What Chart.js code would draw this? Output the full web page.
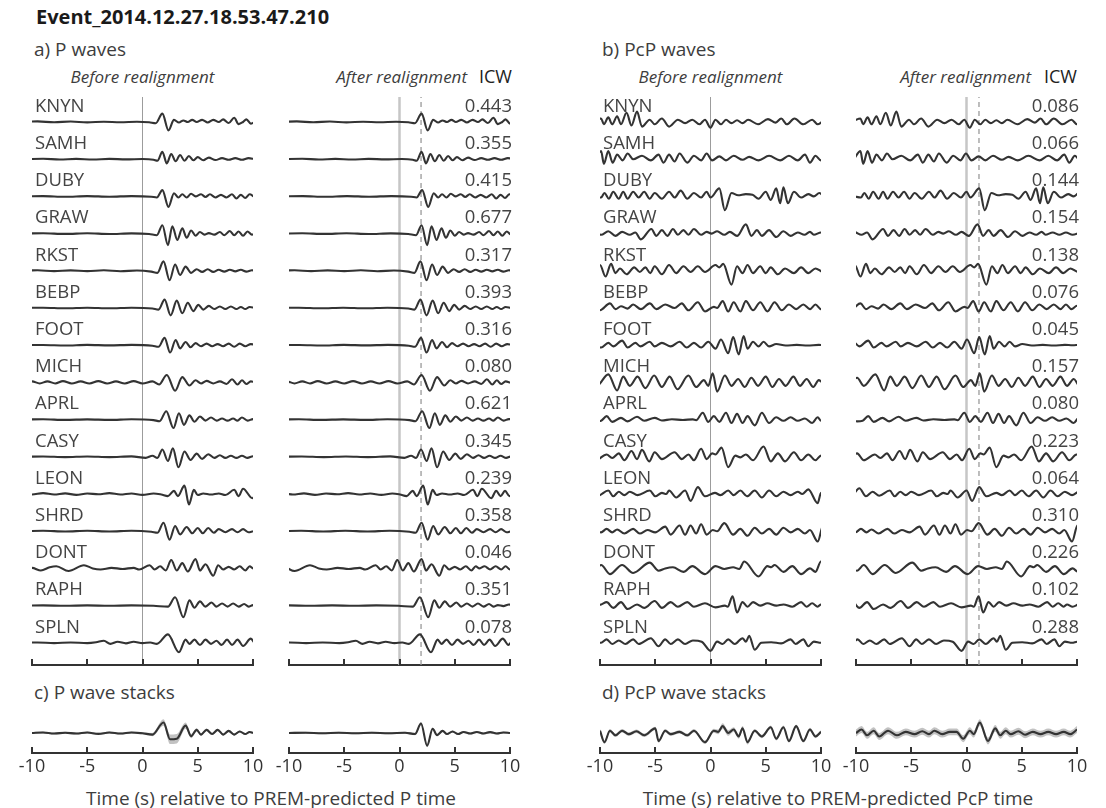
<!DOCTYPE html>
<html>
<head>
<meta charset="utf-8">
<script src="https://cdn.jsdelivr.net/npm/chart.js@4.4.0/dist/chart.umd.min.js"></script>
<style>
  body { margin: 0; background: #fff; width: 1106px; height: 808px; position: relative; overflow: hidden;
         font-family: "Open Sans", sans-serif; color: #3d3d3d; }
  .t { position: absolute; white-space: nowrap; line-height: 1; }
  canvas { position: absolute; }
</style>
</head>
<body>
<div class="t" style="left:36px;top:7px;font-size:20px;font-weight:700;color:#1a1a1a">Event_2014.12.27.18.53.47.210</div>

<div class="t" style="left:34px;top:40px;font-size:19px">a) P waves</div>
<div class="t" style="left:602px;top:40px;font-size:19px">b) PcP waves</div>

<div class="t" style="left:42px;width:201px;text-align:center;top:68px;font-size:17px;font-style:italic">Before realignment</div>
<div class="t" style="right:639px;top:68px;font-size:17px;font-style:italic">After realignment</div>
<div class="t" style="right:594px;top:67px;font-size:18px;color:#222">ICW</div>

<div class="t" style="left:610px;width:201px;text-align:center;top:68px;font-size:17px;font-style:italic">Before realignment</div>
<div class="t" style="right:75px;top:68px;font-size:17px;font-style:italic">After realignment</div>
<div class="t" style="right:29px;top:67px;font-size:18px;color:#222">ICW</div>

<div class="t" style="left:34px;top:683px;font-size:19px">c) P wave stacks</div>
<div class="t" style="left:602px;top:683px;font-size:19px">d) PcP wave stacks</div>

<div class="t" style="left:21px;width:500px;text-align:center;top:789px;font-size:19px">Time (s) relative to PREM-predicted P time</div>
<div class="t" style="left:588px;width:500px;text-align:center;top:789px;font-size:19px">Time (s) relative to PREM-predicted PcP time</div>

<canvas id="pBefore"></canvas>
<canvas id="pAfter"></canvas>
<canvas id="pcpBefore"></canvas>
<canvas id="pcpAfter"></canvas>
<canvas id="pStackB"></canvas>
<canvas id="pStackA"></canvas>
<canvas id="pcpStackB"></canvas>
<canvas id="pcpStackA"></canvas>

<script>
// ---- data ----
const stations = ['KNYN', 'SAMH', 'DUBY', 'GRAW', 'RKST', 'BEBP', 'FOOT', 'MICH',
                  'APRL', 'CASY', 'LEON', 'SHRD', 'DONT', 'RAPH', 'SPLN'];
const icwP   = ['0.443', '0.355', '0.415', '0.677', '0.317', '0.393', '0.316', '0.080',
                '0.621', '0.345', '0.239', '0.358', '0.046', '0.351', '0.078'];
const icwPcP = ['0.086', '0.066', '0.144', '0.154', '0.138', '0.076', '0.045', '0.157',
                '0.080', '0.223', '0.064', '0.310', '0.226', '0.102', '0.288'];
// realignment time shift of each trace (s)
const shiftP   = [0.2, 0.2, 0.25, 0.2, 0, -0.1, -0.05, -0.2, -0.1, 0.15, -1.65, 0.1, -2.8, -1.1, -0.45];
const shiftPcP = [0.3, 0.3, 0.35, -2.2, -0.1, -0.5, -0.9, 1.0, 0.5, 1.1, 2.3, -0.15, 0.6, -0.9, -0.45];
const pickP = 1.95, pickPcP = 1.13;
const xTicks = [-10, -5, 0, 5, 10];

// P waveforms, [time s, amplitude px] at peaks / troughs
const pKNYN = [[-11,0],[-9.5,0.6],[-8,-0.3],[-6.5,0.5],[-5,-0.4],[-3.5,0.3],[-2,-0.3],[-0.5,0.3],[0.6,-0.3],[1.2,-1.2],[1.8,8],[2.35,-8],[2.85,2],[3.3,-0.5],[3.7,1.5],[4.1,0],[4.5,2],[4.9,0],[5.4,2],[5.9,-0.5],[6.4,2],[6.9,0],[7.3,2.5],[7.8,-1],[8.3,4],[8.7,-2],[9.1,0],[9.4,2.5],[9.8,-1.5],[10.4,1],[11,0]];
const pSAMH = [[-11,0],[-9,0.4],[-7.5,-0.3],[-6,0.3],[-4.5,-0.3],[-3,0.3],[-1.5,-0.2],[0,0.2],[1,-0.5],[1.35,-1.5],[1.8,7],[2.2,-4],[2.6,5],[3.0,-2],[3.4,4],[3.8,-1.5],[4.2,3],[4.6,-1],[5.0,2],[5.5,-1],[6.0,1.5],[6.6,-0.8],[7.2,1],[7.8,-0.5],[8.4,1],[9.0,-0.5],[9.6,1],[10.3,0],[11,0.5]];
const pDUBY = [[-11,0],[-9,0.3],[-7,-0.4],[-5,0.3],[-3,-0.3],[-1,0.3],[0.8,-0.3],[1.3,-1],[1.8,6],[2.35,-10],[2.85,3],[3.25,-1],[3.6,2],[4.0,-1],[4.4,2.5],[4.8,0],[5.3,2],[5.7,-0.5],[6.1,2],[6.6,-1],[7.1,1.5],[7.6,-1],[8.1,2],[8.5,-2],[8.9,1.5],[9.3,-1.5],[9.7,2],[10.2,-0.5],[11,0.5]];
const pGRAW = [[-11,0],[-9,0.3],[-7,-0.3],[-5,0.3],[-3,-0.4],[-1,0.2],[0.6,-0.4],[1.3,-1.5],[1.8,8],[2.3,-11],[2.7,7],[3.15,-6],[3.6,5],[4.0,-4],[4.4,3],[4.8,-2],[5.2,1.5],[5.6,-1],[6.0,0.5],[6.5,-1],[7.0,1.5],[7.4,-1.5],[7.9,2.5],[8.3,-1.5],[8.7,2],[9.1,-2],[9.5,2],[9.9,-1],[10.5,1],[11,0]];
const pRKST = [[-11,0],[-9.5,0.5],[-8,-0.3],[-6.5,0.4],[-5,-0.3],[-3.5,0.5],[-2,-0.4],[-0.5,0.3],[0.8,-0.8],[1.35,-2],[1.9,9],[2.45,-9],[2.95,6],[3.4,-4],[3.9,4],[4.4,-2],[4.9,1.5],[5.4,-1],[5.9,1.5],[6.4,-1],[6.9,1],[7.4,-0.8],[7.9,1],[8.4,-0.5],[8.9,1],[9.4,-0.8],[9.9,0.5],[10.5,-0.5],[11,0]];
const pBEBP = [[-11,0],[-9,0.3],[-7,-0.3],[-5,0.3],[-3,-0.3],[-1,0.3],[0.9,-0.5],[1.45,-1.5],[2.0,8],[2.55,-7],[3.1,7],[3.6,-5],[4.1,5],[4.6,-3],[5.05,3],[5.5,-1.5],[6.0,2],[6.5,-1],[7.0,1.5],[7.5,-1],[8.0,1.5],[8.5,-1],[8.9,1],[9.3,-1],[9.7,1],[10.3,0],[11,0]];
const pFOOT = [[-11,0],[-9,0.2],[-7,-0.3],[-5,0.3],[-3,-0.2],[-1,0.3],[0.9,-0.5],[1.45,-1.5],[2.0,7],[2.5,-7],[3.0,5],[3.4,-3],[3.9,3],[4.35,-2],[4.8,2],[5.3,-1],[5.8,1.5],[6.3,-1],[6.8,1],[7.3,-1],[7.8,1.5],[8.3,-1.5],[8.8,1.5],[9.3,-1],[9.8,1],[10.4,0],[11,0.5]];
const pMICH = [[-11,0],[-10,1],[-9.3,-1],[-8.6,1],[-7.9,-1],[-7.2,1.2],[-6.4,-1],[-5.6,1],[-4.8,-1],[-4.0,1.2],[-3.2,-1],[-2.4,1],[-1.6,-1],[-0.8,1.2],[0,-1],[0.9,1],[1.5,-2],[2.2,7],[2.95,-8],[3.6,5],[4.25,-3],[4.8,2],[5.3,-1],[5.8,1.5],[6.4,-1],[7.0,1],[7.6,-1.5],[8.1,3],[8.6,-2],[9.0,2],[9.4,-1.5],[9.8,1],[10.4,-0.5],[11,0.5]];
const pAPRL = [[-11,0],[-9,0.3],[-7,-0.3],[-5,0.2],[-3,-0.3],[-1,0.3],[1.0,-0.5],[1.55,-1.5],[2.15,8],[2.8,-8],[3.3,6],[3.75,-5],[4.25,4],[4.7,-2],[5.2,3],[5.7,-1],[6.2,2],[6.7,-1],[7.2,1],[7.7,-1],[8.2,1],[8.6,-1],[9.0,2],[9.5,-1],[10.0,0.5],[10.6,-0.5],[11,0]];
const pCASY = [[-11,0],[-9,0.3],[-7,-0.3],[-5,0.3],[-3,-0.3],[-1,0.4],[0.3,-1],[0.9,1],[1.35,-1],[1.8,7],[2.3,-4],[2.75,8],[3.25,-10],[3.8,5],[4.35,-3],[4.9,3],[5.4,-2],[5.95,2.5],[6.5,-1],[7.0,1.5],[7.5,-1],[8.0,1],[8.5,-1],[9.0,1],[9.5,-1],[10,0.5],[10.6,-0.5],[11,0]];
const pLEON = [[-11,0.3],[-10,-0.5],[-9,0.8],[-8,-0.5],[-7,0.6],[-6,-0.8],[-5,0.5],[-4,-0.3],[-3,0.8],[-2,-0.5],[-1,0.5],[0,-0.8],[1,0.5],[1.7,-0.5],[2.3,-2],[2.85,3],[3.2,-2],[3.8,8],[4.2,-10],[4.65,4],[5.0,-1],[5.5,0.5],[6.2,-0.5],[6.9,0.5],[7.5,-1],[8.3,4],[8.7,-2],[9.1,5],[9.95,-4],[10.4,3],[10.8,-2],[11.2,3],[11.6,-2],[12,1]];
const pSHRD = [[-11,0],[-9,0.4],[-7,-0.3],[-5,0.4],[-3,-0.3],[-1,0.4],[0.8,-0.6],[1.35,-1.5],[1.9,8],[2.45,-8],[2.95,5],[3.4,-3],[4.0,4],[4.5,-2],[5.0,3],[5.45,-2],[5.95,3],[6.45,-1.5],[6.9,2],[7.5,-1],[8.1,2],[8.6,-1],[9.1,2],[9.6,-1],[10,0],[10.5,1],[11,0]];
const pDONT = [[-10.5,0],[-10,0.5],[-9.2,-2],[-8.4,1],[-7.8,2],[-6.7,-2.5],[-5.3,3],[-4.5,0],[-3.8,-1],[-2.8,0.5],[-1.8,-0.5],[-0.8,0.5],[-0.3,-1],[0.65,3],[1.1,-1],[1.6,2],[2.1,-2],[2.6,8],[3.1,-2],[3.6,5],[4.1,-3],[4.8,9],[5.2,-2],[5.7,4],[6.4,-7],[6.85,3],[7.3,-1],[7.8,1.5],[8.3,-1],[8.8,2],[9.3,-2],[9.7,2],[10,0],[10.5,2],[11,-1],[11.5,2],[12,-1],[12.4,2],[12.8,-1],[13.2,0]];
const pRAPH = [[-11,0],[-9,0.2],[-7,-0.2],[-5,0.2],[-3,-0.2],[-1,0.2],[1,-0.2],[2.3,-1],[2.95,8],[3.7,-11],[4.25,5],[4.7,-2],[5.2,4],[5.7,-1],[6.25,3],[6.7,-1],[7.2,2],[7.7,-1],[8.2,2],[8.7,-1],[9.2,1.5],[9.6,-1],[10,0.5],[10.5,-0.5],[11,1],[11.5,0]];
const pSPLN = [[-11,0],[-9.5,0.3],[-8,-0.3],[-6.5,0.3],[-5,-0.3],[-4.2,0.5],[-3.5,2],[-2.9,-1],[-2.25,1],[-1.5,-0.5],[-0.8,1],[0,-0.3],[0.7,0.3],[1.3,-1],[2.3,8],[3.3,-9],[3.9,3],[4.25,-1],[4.7,3],[5.2,-2],[5.7,3],[6.2,-1],[6.7,2],[7.15,-2],[7.65,3],[8.1,-2],[8.6,3],[9.1,-3],[9.8,4],[10.3,-2],[10.7,2],[11.2,-1],[11.5,0]];

// PcP waveforms
const cKNYN = [[-10.5,1],[-9.9,3],[-9.65,-2],[-9.25,4],[-8.9,-2],[-8.45,5],[-8.1,-2],[-7.6,8],[-7.15,-3],[-6.65,9],[-6.2,-4],[-5.5,2],[-5.05,-2],[-4.4,3],[-3.75,-4],[-2.95,2],[-2.3,-1],[-1.65,2],[-1.0,-2],[-0.5,2],[0,-5],[0.45,2],[0.95,-2],[1.4,2],[1.9,-1],[2.4,1.5],[2.9,-1],[3.4,2],[4.3,-2],[5.2,2.5],[5.9,-0.5],[6.4,3],[6.9,-2],[7.6,3],[8.4,-2],[9.2,2],[9.7,-2],[10.3,1],[11,0]];
const cSAMH = [[-10.5,0],[-9.9,7],[-9.65,-4],[-9.25,7],[-8.85,-3],[-8.45,4],[-7.95,-1],[-7.5,5],[-7.0,0],[-6.2,3],[-5.4,-1],[-4.7,4],[-4.25,-3],[-3.75,4],[-3.25,-2],[-2.8,5],[-2.1,-3],[-1.5,3],[-0.85,-1],[-0.35,5],[0.15,-1],[0.8,2.5],[1.4,-1],[2.1,3],[2.9,-0.5],[3.5,2],[4.35,-1],[5.3,3],[6.3,-1],[7.1,3],[7.9,-1],[8.55,4],[9.0,-3],[9.5,3],[10.0,-1],[10.5,2],[11,0]];
const cDUBY = [[-10.5,0],[-9.9,-1],[-9.6,3],[-9.2,-2],[-8.8,4],[-8.3,-2],[-7.9,4],[-7.5,-2],[-7.0,4],[-6.5,-1],[-6.0,4],[-5.5,-2],[-5.05,3],[-4.4,-2],[-3.75,4],[-3.25,-1],[-2.7,5],[-2.1,-2],[-1.5,3],[-0.85,-1],[-0.35,4],[0,-1],[0.8,7],[1.3,-12],[1.9,3],[2.5,1],[3.2,2],[3.8,1.5],[4.35,-2],[5.0,4],[5.45,-3],[5.95,7],[6.3,-6],[6.6,8],[7.0,-6],[7.55,4],[8.2,-1],[8.85,2],[9.35,0],[9.85,3],[10.4,-1],[11,0]];
const cGRAW = [[-10.5,0],[-9.9,-1],[-9.25,2],[-8.6,-2],[-8.0,1.5],[-7.3,-1],[-6.8,1],[-6.3,-5],[-5.35,4],[-4.9,-2],[-4.4,3],[-3.9,-2],[-3.4,4],[-2.95,-1],[-2.45,3],[-2.0,-1],[-1.5,4],[-0.85,-1],[-0.35,1.5],[0.1,0],[0.6,2],[1.25,-1],[1.75,1.5],[2.4,-2],[3.2,8],[3.7,-2],[4.2,3],[4.65,-2],[5.3,3],[5.95,-3],[6.6,2],[7.25,-2],[7.9,1],[8.5,-1],[9.0,1.5],[9.35,-1],[10,1],[10.6,-1],[11.2,1],[11.8,-1],[12.4,0.5]];
const cRKST = [[-10.5,0],[-10,5],[-9.5,-5],[-9.0,6],[-8.6,-2],[-8.2,2],[-7.6,-3],[-6.9,3],[-6.4,-1],[-5.9,3],[-5.45,-2],[-5.05,4],[-4.4,-3],[-3.75,5],[-3.1,-2],[-2.45,4],[-1.8,-1],[-1.15,4],[-0.5,-1],[0.45,5],[0.8,3],[1.15,6],[1.9,-12],[2.4,4],[2.9,-2],[3.35,5],[3.85,-2],[4.5,4],[5.0,-2],[5.45,3],[6.1,-3],[6.75,2],[7.55,-2],[8.2,3],[8.85,-2],[9.5,2],[10.2,-1],[10.8,1]];
const cBEBP = [[-10.5,0],[-10,-2],[-9.1,4],[-8.6,-1],[-8.1,1.5],[-7.5,-0.5],[-7.0,3],[-6.3,-1],[-5.5,4],[-4.9,-1],[-4.1,3],[-3.25,0],[-2.6,4],[-2.0,-2],[-1.15,5],[-0.5,-3],[0.3,1],[0.6,0],[1.1,6],[1.6,-3],[2.1,5],[2.7,-3],[3.2,6],[3.85,-2],[4.5,5],[5.15,-3],[5.8,5],[6.45,-2],[7.1,3],[7.75,-1],[8.4,3],[9.0,-1],[9.5,3],[10.0,-1],[10.5,2],[11,0]];
const cFOOT = [[-10.5,0],[-9.9,-2],[-9.25,2],[-8.8,-1],[-8.0,4],[-7.5,-2],[-6.8,2],[-6.35,-1],[-5.5,3],[-5.05,-1],[-4.4,2],[-3.6,-1],[-2.8,3],[-2.15,-2],[-1.5,2],[-0.85,-2],[-0.2,3],[0.45,-3],[0.95,5],[1.6,-7],[2.05,7],[2.55,-8],[3.0,8],[3.35,-3],[3.85,3],[4.35,-1],[4.8,3],[5.3,-1],[5.95,1],[6.8,-0.3],[7.8,0.3],[8.8,-0.3],[9.8,0.3],[10.5,0],[11,0.3]];
const cMICH = [[-11.5,0],[-10.9,4],[-10.3,-3],[-9.25,7],[-8.45,-7],[-7.9,5],[-7.3,-3],[-6.6,5],[-5.9,-5],[-5.1,6],[-4.4,-4],[-3.7,5],[-3.0,-6],[-2.0,6],[-1.3,-4],[-0.6,2],[-0.2,-3],[0.2,8],[0.6,-8],[1.3,6],[1.9,-3],[2.5,3],[3.1,-4],[3.7,4],[4.3,-3],[5.0,5],[5.6,-4],[6.2,3],[6.8,-3],[7.5,5],[8.1,-3],[8.7,3],[9.3,-4],[9.8,2],[10.4,-2],[11,1]];
const cAPRL = [[-11,0],[-10.4,-1.5],[-9.9,-1],[-9.4,3],[-8.9,-2],[-8.1,1.5],[-7.5,-1.5],[-6.65,2.5],[-6.0,-1],[-5.05,1.5],[-4.4,-0.8],[-3.5,0.3],[-2.5,-0.3],[-1.6,0.2],[-1.3,-0.5],[-0.7,6],[-0.2,-2],[0.3,3],[0.8,-2],[1.4,6],[1.9,-3],[2.4,5],[2.9,-3],[3.35,3],[4.0,-5],[4.65,6],[5.3,-3],[5.95,2],[6.6,-1],[7.25,2],[7.9,-1],[8.55,1],[9.2,-3],[9.7,2],[10.0,-1],[10.5,1]];
const cCASY = [[-11.5,0],[-11.0,3],[-10.4,-3],[-9.4,2],[-8.9,-1],[-8.3,3],[-7.8,-3],[-7.15,5],[-6.65,-2],[-6.2,6],[-5.55,-4],[-5.05,4],[-4.4,-2],[-3.25,4],[-2.6,-2],[-2.0,2],[-1.5,-3],[-0.85,7],[-0.35,-2],[0.15,3],[0.45,2],[1.0,8],[1.6,-9],[2.25,1],[2.7,-0.5],[3.2,2],[3.85,-3],[4.8,9],[5.45,-4],[6.1,3],[6.75,-4],[7.55,4],[8.2,-3],[8.85,2],[9.5,-3],[10.0,1],[10.5,-1],[11,0]];
const cLEON = [[-12.5,0],[-12.0,5],[-11.4,-2],[-10.8,2],[-10.2,-1.5],[-9.25,3],[-8.8,-2],[-8.3,2],[-7.8,-1],[-7.3,2],[-6.6,-1],[-5.5,3],[-5.0,-2],[-4.4,1],[-4.0,0],[-3.75,3],[-3.1,-3],[-2.3,3],[-1.8,-6],[-1.15,6],[-0.5,-2],[0.4,1],[0.9,-1],[1.6,3],[2.1,-1],[2.7,3],[3.3,-2],[4.0,3],[4.65,-3],[5.3,3],[5.95,-2],[6.6,2],[7.25,-1],[7.9,2],[8.3,0],[8.85,4],[9.7,-8],[10.0,1],[10.3,-1]];
const cSHRD = [[-10.5,0],[-9.9,-1],[-9.4,2],[-8.9,-1],[-8.45,1.5],[-7.8,-2],[-7.0,2],[-6.4,-2],[-5.7,1],[-5.0,-1],[-4.1,4],[-3.6,-3],[-2.8,5],[-2.3,-3],[-1.8,5],[-1.3,-2],[-0.85,6],[-0.35,-3],[0.2,1],[0.6,0],[1.25,7],[2.05,-3],[2.7,2],[3.35,-4],[4.0,3],[4.65,-2],[5.3,2],[5.95,-3],[6.6,3],[7.25,-1],[7.9,2],[8.55,-2],[9.0,1],[9.7,-9],[10.2,5],[10.6,0]];
const cDONT = [[-11,0],[-10.5,-2],[-9.9,3],[-9.1,-5],[-8.0,3],[-7.0,-4],[-5.5,5],[-4.7,-2],[-4.1,0],[-3.4,1],[-2.45,-3],[-1.65,2],[-0.5,-5],[0.45,2],[1.25,-0.5],[2.05,1],[2.6,-0.5],[3.05,6],[4.35,-7],[5.15,2],[5.5,1],[5.8,3],[6.6,-3],[7.4,2],[8.2,-5],[9.0,0],[9.5,-3],[10.0,6],[10.4,0]];
const cRAPH = [[-10.5,0],[-9.9,1],[-9.4,3],[-8.8,-2],[-8.1,3],[-7.5,-3],[-6.65,1],[-6.0,-2],[-5.05,4],[-4.4,-2],[-3.6,3],[-2.95,-1],[-2.1,3],[-1.5,-1],[-0.5,2],[0.45,-1.5],[1.3,0],[1.55,-1],[2.0,8],[2.4,-6],[2.9,3],[3.35,-1],[3.85,3],[4.5,0],[5.15,2],[5.95,0],[6.6,1],[7.4,-1],[8.2,3],[8.7,-1],[9.2,2],[9.7,-1],[10.0,1],[10.5,-1],[11,1]];
const cSPLN = [[-10.5,0],[-9.9,0],[-9.4,3],[-8.9,-1],[-8.3,2],[-7.7,-1],[-7.0,3],[-6.5,-1],[-5.4,4],[-4.7,-3],[-4.1,3],[-3.6,-1],[-2.95,3],[-2.3,-1],[-1.6,2],[-0.8,1],[0,-7],[0.6,1],[1.1,-1],[1.6,3],[2.2,-1],[2.9,4],[3.2,1],[3.5,6],[4.0,-6],[4.6,0],[5.5,0.5],[6.4,-0.5],[7.25,3],[7.7,-1],[8.4,3],[8.85,-3],[9.35,1],[10.0,0],[10.5,1],[11,0]];

// stacks: [time s, amplitude px, spread px]
const pStackBefore = [[-10,0,1],[-9,0.5,1],[-8,-0.5,1],[-7,0.3,1],[-6,-0.5,1],[-5,0.5,1],[-4,-0.8,1],[-3,0.5,1],[-2,-0.5,1],[-1,0.5,1],[0,-0.3,1],[0.9,-1.5,1.5],[1.9,10,3],[2.5,-6,4.5],[3.1,-5.5,4.5],[3.9,7,3],[4.4,-3,2],[4.9,3,1.5],[5.3,-1.5,1.2],[5.8,3,1.2],[6.3,-1,1],[6.8,3,1],[7.3,-1.5,1],[7.8,2,1],[8.3,-1.5,1],[8.8,1.5,1],[9.3,-1,1],[9.7,1,1],[10,0,1]];
const pStackAfter = [[-10,0,1],[-8.5,0.3,1],[-7,-0.3,1],[-5.5,0.3,1],[-4,-0.3,1],[-2.5,0.3,1],[-1,-0.3,1],[0.5,0.3,1],[1.4,-1,1.2],[1.95,9,1.5],[2.5,-12,1.5],[3.0,4,1.2],[3.4,-2,1],[3.9,2,1],[4.3,-1,1],[4.8,1.5,1],[5.3,-1,1],[5.8,1,1],[6.4,-0.5,1],[7,1,1],[7.6,-0.5,1],[8.2,0.8,1],[8.8,-0.5,1],[9.4,0.5,1],[10,0,1]];
const pcpStackBefore = [[-10,2,1.5],[-9.6,-8,1.5],[-9.1,2,1.5],[-8.6,-2,1.5],[-8.0,2,1.5],[-7.4,-1,1.5],[-6.7,1.5,1.5],[-6.0,-2,1.5],[-5.0,4,1.5],[-4.7,-7,1.5],[-4.1,2,1.5],[-3.6,-1,1.5],[-2.8,1,1.5],[-2.1,-2,1.5],[-1.5,2,1.5],[-0.5,-8,1.5],[0.3,2,1.8],[0.7,1,2],[1.1,6,2.5],[1.6,0,2.5],[2.1,3,2],[2.55,-3,2],[2.9,4,2],[3.35,-8,2],[4.0,2,1.5],[4.65,-3,1.5],[5.45,5,1.5],[5.95,-5,1.5],[6.6,5,1.5],[7.1,-7,1.5],[7.75,6,1.5],[8.4,-7,1.5],[9.0,3,1.5],[9.5,-3,1.5],[10,1,1.5]];
const pcpStackAfter = [[-10,0,3],[-9.5,3,3],[-9.0,-2,3],[-8.4,2,3],[-7.9,-3,3],[-7.1,2,3],[-6.3,-2,3],[-5.5,1,3],[-4.7,-1,3],[-4.0,1.5,3],[-3.4,-1,3],[-2.9,2,3],[-2.2,-1,3],[-1.5,1,3],[-0.9,1,3],[-0.3,-5,3],[0.3,2,3],[0.65,-1,3],[1.2,9,3],[1.95,-7,3],[2.6,4,3],[3.05,-2,3],[3.55,2,3],[4.0,-1,3],[4.7,1.5,3],[5.3,-1.5,3],[6.0,1,3],[6.7,-1,3],[7.4,1,3],[8.1,-1,3],[8.8,1,3],[9.4,-1,3],[10,3,3]];

const pTraces = [pKNYN, pSAMH, pDUBY, pGRAW, pRKST, pBEBP, pFOOT, pMICH, pAPRL, pCASY, pLEON, pSHRD, pDONT, pRAPH, pSPLN];
const pcpTraces = [cKNYN, cSAMH, cDUBY, cGRAW, cRKST, cBEBP, cFOOT, cMICH, cAPRL, cCASY, cLEON, cSHRD, cDONT, cRAPH, cSPLN];

// ---- layout ----
const AREA_H = 568, ROW0 = 25, ROWGAP = 37.2;
const rowBase = i => -(ROW0 + ROWGAP * i);
const STACK_H = 48, STACK_BASE = -28;
const PAD = 20;
const INK = '#333';
const GAIN_P = 1.05, GAIN_PCP = 1.15;   // plotting gain per wave type

const decor = {
  id: 'decor',
  afterDraw(chart, args, opts) {
    const { ctx, chartArea: ca, scales: { x, y } } = chart;
    ctx.save();
    ctx.strokeStyle = '#333';
    ctx.lineWidth = 2;
    xTicks.forEach(v => {
      const px = Math.round(x.getPixelForValue(v));
      ctx.beginPath();
      ctx.moveTo(px, ca.bottom);
      ctx.lineTo(px, ca.bottom - 6);
      ctx.stroke();
    });
    ctx.font = '18.5px "Open Sans"';
    ctx.fillStyle = '#444';
    ctx.textBaseline = 'middle';
    (opts.names || []).forEach((n, i) => {
      ctx.textAlign = 'left';
      ctx.fillText(n, ca.left + 3, y.getPixelForValue(rowBase(i)) - 15.5);
    });
    (opts.values || []).forEach((v, i) => {
      ctx.textAlign = 'right';
      ctx.fillText(v, ca.right + 2, y.getPixelForValue(rowBase(i)) - 15.5);
    });
    ctx.restore();
  }
};

let traceSet = (pts, base, dt, gain) => ({
  data: pts.map(p => ({ x: p[0] + dt, y: base + gain * p[1] })),
  showLine: true, borderColor: INK, borderWidth: 2.1, pointRadius: 0,
  cubicInterpolationMode: 'monotone', fill: false, order: 0
});

let vLine = (t, color, width, dash) => ({
  data: [{ x: t, y: -AREA_H }, { x: t, y: 0 }],
  showLine: true, borderColor: color, borderWidth: width, borderDash: dash || [],
  pointRadius: 0, fill: false, order: 5
});

let bandSets = (pts, base, gain) => [
  { data: pts.map(p => ({ x: p[0], y: base + gain * (p[1] + p[2]) })), showLine: true, borderWidth: 0, pointRadius: 0,
    cubicInterpolationMode: 'monotone', fill: '+1', backgroundColor: 'rgba(120,120,120,0.45)', order: 3 },
  { data: pts.map(p => ({ x: p[0], y: base + gain * (p[1] - p[2]) })), showLine: true, borderWidth: 0, pointRadius: 0,
    cubicInterpolationMode: 'monotone', fill: false, order: 3 },
  traceSet(pts, base, 0, gain)
];

function makeChart(id, box, datasets, decorOpts, tickLabels) {
  const axisH = tickLabels ? 30 : 0;
  const cv = document.getElementById(id);
  cv.width = box.w + 2 * PAD;
  cv.height = box.h + 2 * PAD + axisH;
  cv.style.left = (box.x - PAD) + 'px';
  cv.style.top = (box.y - PAD) + 'px';
  return new Chart(cv, {
    type: 'scatter',
    data: { datasets },
    options: {
      responsive: false, animation: false, devicePixelRatio: 1, events: [],
      layout: { padding: PAD },
      plugins: { legend: { display: false }, tooltip: { enabled: false }, decor: decorOpts },
      scales: {
        x: {
          type: 'linear', min: -10, max: 10,
          afterBuildTicks: s => { s.ticks = xTicks.map(v => ({ value: v })); },
          afterFit: s => { s.height = axisH; },
          grid: { display: false, drawTicks: false },
          border: { display: true, color: '#333', width: 2 },
          ticks: { display: tickLabels, padding: 3, maxRotation: 0, autoSkip: false, color: '#333',
                   font: { family: 'Open Sans', size: 18 } }
        },
        y: { display: false, min: -box.h, max: 0 }
      }
    },
    plugins: [decor]
  });
}

function wavePanel(id, x0, traces, shifts, pick, values, gain) {
  const sets = traces.map((tr, i) => traceSet(tr, rowBase(i), shifts ? shifts[i] : 0, gain));
  if (shifts) {
    sets.push(vLine(0, '#c6c6c6', 2.5));
    sets.push(vLine(pick, '#9a9a9a', 1.3, [5, 4]));
  } else {
    sets.push(vLine(0, '#9c9c9c', 1));
  }
  makeChart(id, { x: x0, y: 97, w: 221, h: AREA_H }, sets,
            shifts ? { values } : { names: stations }, false);
}

wavePanel('pBefore', 32, pTraces, null, null, null, GAIN_P);
wavePanel('pAfter', 289, pTraces, shiftP, pickP, icwP, GAIN_P);
wavePanel('pcpBefore', 600, pcpTraces, null, null, null, GAIN_PCP);
wavePanel('pcpAfter', 856, pcpTraces, shiftPcP, pickPcP, icwPcP, GAIN_PCP);

makeChart('pStackB', { x: 32, y: 705, w: 221, h: STACK_H }, bandSets(pStackBefore, STACK_BASE, GAIN_P), {}, true);
makeChart('pStackA', { x: 289, y: 705, w: 221, h: STACK_H }, bandSets(pStackAfter, STACK_BASE, GAIN_P), {}, true);
makeChart('pcpStackB', { x: 600, y: 705, w: 221, h: STACK_H }, bandSets(pcpStackBefore, STACK_BASE, GAIN_PCP), {}, true);
makeChart('pcpStackA', { x: 856, y: 705, w: 221, h: STACK_H }, bandSets(pcpStackAfter, STACK_BASE, GAIN_PCP), {}, true);
</script>
</body>
</html>
